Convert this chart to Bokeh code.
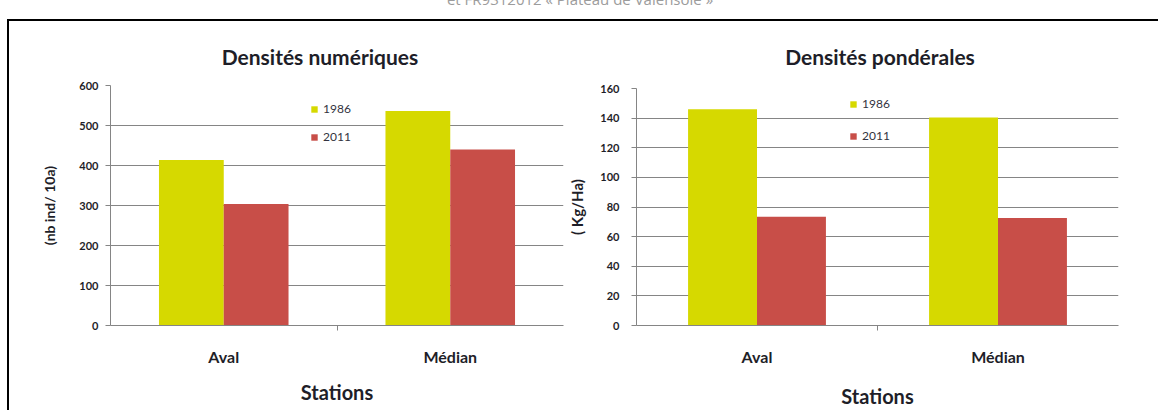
from bokeh.plotting import figure
from bokeh.models import (FactorRange, Range1d, LinearAxis, CategoricalAxis, FixedTicker,
                          Legend, LegendItem, Div, ColumnDataSource, Grid)
from bokeh.layouts import row, column
from bokeh.transform import dodge
from bokeh.embed import file_html
from bokeh.resources import INLINE

# ---------------- data ----------------
stations = ["Aval", "Médian"]
years = ["1986", "2011"]
num_1986 = [414, 536]
num_2011 = [304, 440]
pond_1986 = [146, 140.5]
pond_2011 = [73.5, 72.5]
num_ticks = [0, 100, 200, 300, 400, 500, 600]
pond_ticks = [0, 20, 40, 60, 80, 100, 120, 140, 160]
header_text = "et FR9312012 « Plateau de Valensole »"
title_num = "Densités numériques"
title_pond = "Densités pondérales"
ylabel_num = "(nb ind/ 10a)"
ylabel_pond = "( Kg/Ha)"
xlabel = "Stations"

# ---------------- style ----------------
FONT = "Lato"
C1986 = "#d6d900"
C2011 = "#c84e48"
GRID = "#858585"
TXT = "#1e1e28"


def make_chart(v86, v11, yticks, ylabel, frame_w, frame_h, mb_left, mb_right, mb_top,
               legend_loc, legend_spacing, ytick_standoff, ylabel_standoff,
               ylabel_size, xlabel_standoff):
    src = ColumnDataSource(dict(station=stations, y86=v86, y11=v11))
    p = figure(x_range=FactorRange(*stations, range_padding=0),
               y_range=Range1d(0, yticks[-1]),
               frame_width=frame_w, frame_height=frame_h,
               x_axis_location=None, y_axis_location=None,
               toolbar_location=None, output_backend="svg",
               min_border_left=mb_left, min_border_right=mb_right,
               min_border_top=mb_top, min_border_bottom=85)
    p.outline_line_color = None
    p.background_fill_color = "white"
    p.border_fill_color = None
    # drop the default grids created by figure()
    p.center = [r for r in p.center if not isinstance(r, Grid)]

    # y axis
    yt = FixedTicker(ticks=yticks)
    yax = LinearAxis(ticker=yt, axis_label=ylabel)
    yax.axis_line_color = GRID
    yax.major_tick_line_color = GRID
    yax.major_tick_out = 5
    yax.major_tick_in = 0
    yax.minor_tick_line_color = None
    yax.major_label_standoff = ytick_standoff
    yax.major_label_text_font = FONT
    yax.major_label_text_font_style = "bold"
    yax.major_label_text_font_size = "11px"
    yax.major_label_text_color = TXT
    yax.axis_label_standoff = ylabel_standoff
    yax.axis_label_text_font = FONT
    yax.axis_label_text_font_style = "bold"
    yax.axis_label_text_font_size = ylabel_size
    yax.axis_label_text_color = TXT
    p.add_layout(yax, "left")
    p.add_layout(Grid(dimension=1, ticker=yt, grid_line_color=GRID, grid_line_width=1))

    # boundary ticks axis (category separators): a factor range whose
    # factor centres fall on the category boundaries of the main range
    bounds = ["b%d" % i for i in range(len(stations) + 1)]
    p.extra_x_ranges = {"bounds": FactorRange(*bounds, range_padding=-0.5,
                                              range_padding_units="absolute")}
    bax = CategoricalAxis(x_range_name="bounds")
    bax.axis_line_color = GRID
    bax.major_tick_line_color = GRID
    bax.major_tick_out = 5
    bax.major_tick_in = 0
    bax.major_label_text_font_size = "0px"
    bax.major_label_text_color = None
    bax.major_label_standoff = 0
    bax.separator_line_color = None
    p.add_layout(bax, "below")

    # category axis
    cax = CategoricalAxis(axis_label=xlabel)
    cax.axis_line_color = None
    cax.major_tick_line_color = None
    cax.separator_line_color = None
    cax.major_label_standoff = 10
    cax.major_label_text_font = FONT
    cax.major_label_text_font_style = "bold"
    cax.major_label_text_font_size = "16px"
    cax.major_label_text_color = TXT
    cax.axis_label_standoff = xlabel_standoff
    cax.axis_label_text_font = FONT
    cax.axis_label_text_font_style = "bold"
    cax.axis_label_text_font_size = "20px"
    cax.axis_label_text_color = TXT
    p.add_layout(cax, "below")

    bw = 0.286
    r1 = p.vbar(x=dodge("station", -bw / 2, range=p.x_range), top="y86", width=bw,
                source=src, fill_color=C1986, line_color=None)
    r2 = p.vbar(x=dodge("station", bw / 2, range=p.x_range), top="y11", width=bw,
                source=src, fill_color=C2011, line_color=None)

    leg = Legend(items=[LegendItem(label=years[0], renderers=[r1]),
                        LegendItem(label=years[1], renderers=[r2])],
                 location=legend_loc, orientation="vertical",
                 glyph_width=8, glyph_height=8, label_height=8, label_width=30,
                 spacing=legend_spacing, padding=0, margin=0, label_standoff=5,
                 border_line_color=None, background_fill_alpha=0,
                 label_text_font=FONT, label_text_font_size="12px",
                 label_text_color="#333340")
    p.add_layout(leg)
    return p


p1 = make_chart(num_1986, num_2011, num_ticks, ylabel_num,
                frame_w=453, frame_h=240, mb_left=110, mb_right=1, mb_top=13,
                legend_loc=(200, 181), legend_spacing=13, ytick_standoff=7,
                ylabel_standoff=18, ylabel_size="14px", xlabel_standoff=11)
p2 = make_chart(pond_1986, pond_2011, pond_ticks, ylabel_pond,
                frame_w=482, frame_h=237, mb_left=72, mb_right=40, mb_top=16,
                legend_loc=(213, 182), legend_spacing=17, ytick_standoff=12,
                ylabel_standoff=11, ylabel_size="15px", xlabel_standoff=15)

TITLE_CSS = ("position:absolute; top:44px; width:400px; text-align:center; "
             "font-family:Lato; font-weight:bold; font-size:21px; line-height:26px; "
             "color:%s; white-space:nowrap;" % TXT)
header_html = (
    '<div style="position:relative; width:1158px; height:72px;">'
    '<div style="position:absolute; left:330px; width:500px; top:-10px; text-align:center; '
    'color:#9c9c9c; font-family:\'Open Sans\'; font-size:15px; line-height:18px; '
    'white-space:nowrap;">' + header_text + '</div>'
    '<div style="position:absolute; left:7px; top:19px; width:1200px; height:500px; '
    'border-top:2px solid #000; border-left:2px solid #000; box-sizing:border-box;"></div>'
    '<div style="' + TITLE_CSS + ' left:120px;">' + title_num + '</div>'
    '<div style="' + TITLE_CSS + ' left:680px;">' + title_pond + '</div>'
    '</div>'
)
header = Div(text=header_html, width=1158, height=72, margin=0,
             styles={"overflow": "visible"})

layout = column(header, row(column(p1), column(p2)))

open("out.html", "w").write(file_html(layout, INLINE))
